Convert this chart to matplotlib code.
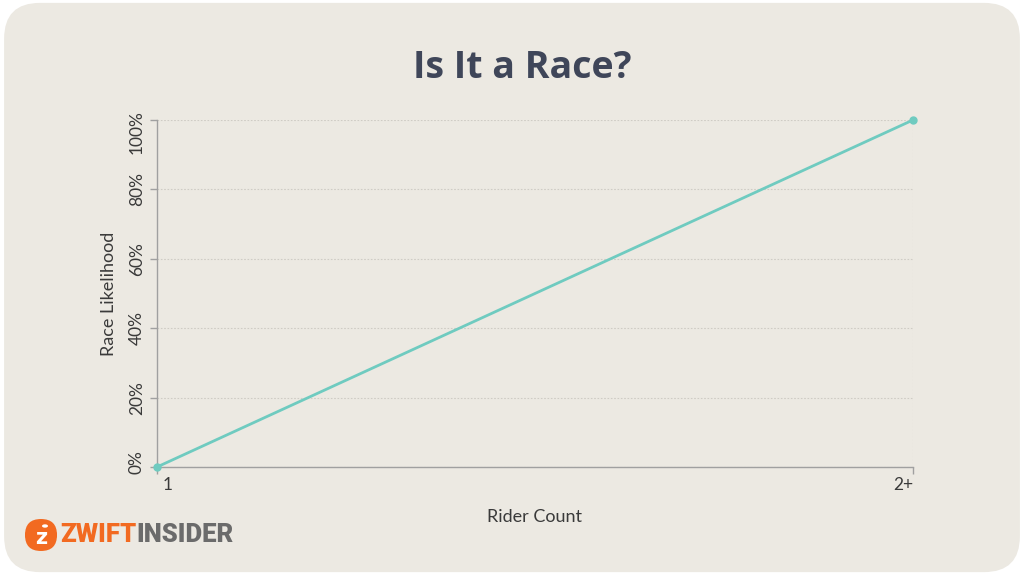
import matplotlib.pyplot as plt
from matplotlib.patches import FancyBboxPatch, Circle

# data
rider_labels = ["1", "2+"]
likelihood = [0, 100]
y_ticks = [0, 20, 40, 60, 80, 100]

BG = "#ECE9E2"
TEAL = "#6FCBC0"
TEXT = "#3A3A3A"
ORANGE = "#F26A21"
GREY = "#6B6B6B"

plt.rcParams["font.family"] = ["Lato", "DejaVu Sans"]

fig = plt.figure(figsize=(10.24, 5.75), dpi=100)
fig.patch.set_facecolor("white")

# rounded background card
card = FancyBboxPatch((0.004, 0.005), 0.992, 0.99,
                      boxstyle="round,pad=0,rounding_size=0.035",
                      transform=fig.transFigure, facecolor=BG,
                      edgecolor="none", mutation_aspect=1024 / 575, zorder=-5)
fig.patches.append(card)

ax = fig.add_axes([0.1533, 0.1878, 0.7383, 0.6035])
ax.set_facecolor("none")
ax.set_zorder(2)

x = list(range(len(rider_labels)))
ax.plot(x, likelihood, color=TEAL, lw=2, marker="o", ms=5,
        clip_on=False, zorder=3)

ax.set_xlim(0, 1)
ax.set_ylim(0, 100)
ax.set_xticks(x)
ax.set_xticklabels([])
ax.set_yticks(y_ticks)
ax.set_yticklabels([])

# tick labels placed by hand so the end ones can sit inside the plot edges
x_offsets = [(11, "center"), (0, "right")]
for xi, lab, (dx, ha) in zip(x, rider_labels, x_offsets):
    ax.annotate(lab, (xi, 0), xycoords=("data", "axes fraction"),
                xytext=(dx, -10), textcoords="offset pixels",
                ha=ha, va="top", fontsize=12.5, color=TEXT)

for v in y_ticks:
    dy = -12 if v == 100 else (5 if v == 0 else 0)
    ax.annotate(f"{v}%", (0, v), xycoords=("axes fraction", "data"),
                xytext=(-12, dy), textcoords="offset pixels",
                ha="right", va="center", rotation=90,
                fontsize=12.5, color=TEXT)

ax.tick_params(axis="both", length=5, color="#A0A0A0", width=1)

for s in ["top", "right"]:
    ax.spines[s].set_visible(False)
for s in ["left", "bottom"]:
    ax.spines[s].set_color("#A0A0A0")
    ax.spines[s].set_linewidth(1)

ax.grid(True, axis="y", color="#CFCCC5", linestyle=(0, (1.5, 1.5)), lw=0.8)
ax.axvline(1, color="#CFCCC5", linestyle=(0, (1.5, 1.5)), lw=0.8, zorder=1)

ax.set_xlabel("Rider Count", fontsize=13, color=TEXT, labelpad=21.5)
ax.set_ylabel("Race Likelihood", fontsize=13, color=TEXT, labelpad=20)

fig.text(0.51, 0.882, "Is It a Race?", ha="center", va="center",
         fontsize=27, fontweight="bold", color="#3F4659",
         family=["Open Sans", "DejaVu Sans"])

# logo
fig.patches.append(Circle((41 / 1024, 1 - 535 / 575), 16 / 1024, transform=fig.transFigure,
                          facecolor=ORANGE, edgecolor="none"))
fig.patches.append(
    FancyBboxPatch((25 / 1024, 1 - 551 / 575), 32 / 1024, 32 / 575,
                   boxstyle="round,pad=0,rounding_size=0.0156",
                   mutation_aspect=1024 / 575,
                   transform=fig.transFigure, facecolor=ORANGE, edgecolor="none"))
fig.text(41 / 1024, 1 - 538 / 575, "z", ha="center", va="center", fontsize=15,
         fontweight="heavy", color="white", family=["DejaVu Sans"])
fig.patches.append(Circle((45 / 1024, 1 - 526 / 575), 3 / 1024, transform=fig.transFigure,
                          facecolor="white", edgecolor="none"))
t1 = fig.text(60 / 1024, 1 - 535 / 575, "ZWIFT", ha="left", va="center",
              fontsize=18.5, fontweight="heavy", color=ORANGE,
              family=["Roboto", "DejaVu Sans"])
fig.canvas.draw()
bb = t1.get_window_extent()
fig.text(bb.x1 / 1024, 1 - 535 / 575, "INSIDER", ha="left", va="center",
         fontsize=18.5, fontweight="heavy", color=GREY,
         family=["Roboto", "DejaVu Sans"])

fig.savefig("out.png", dpi=100, facecolor=fig.get_facecolor())
